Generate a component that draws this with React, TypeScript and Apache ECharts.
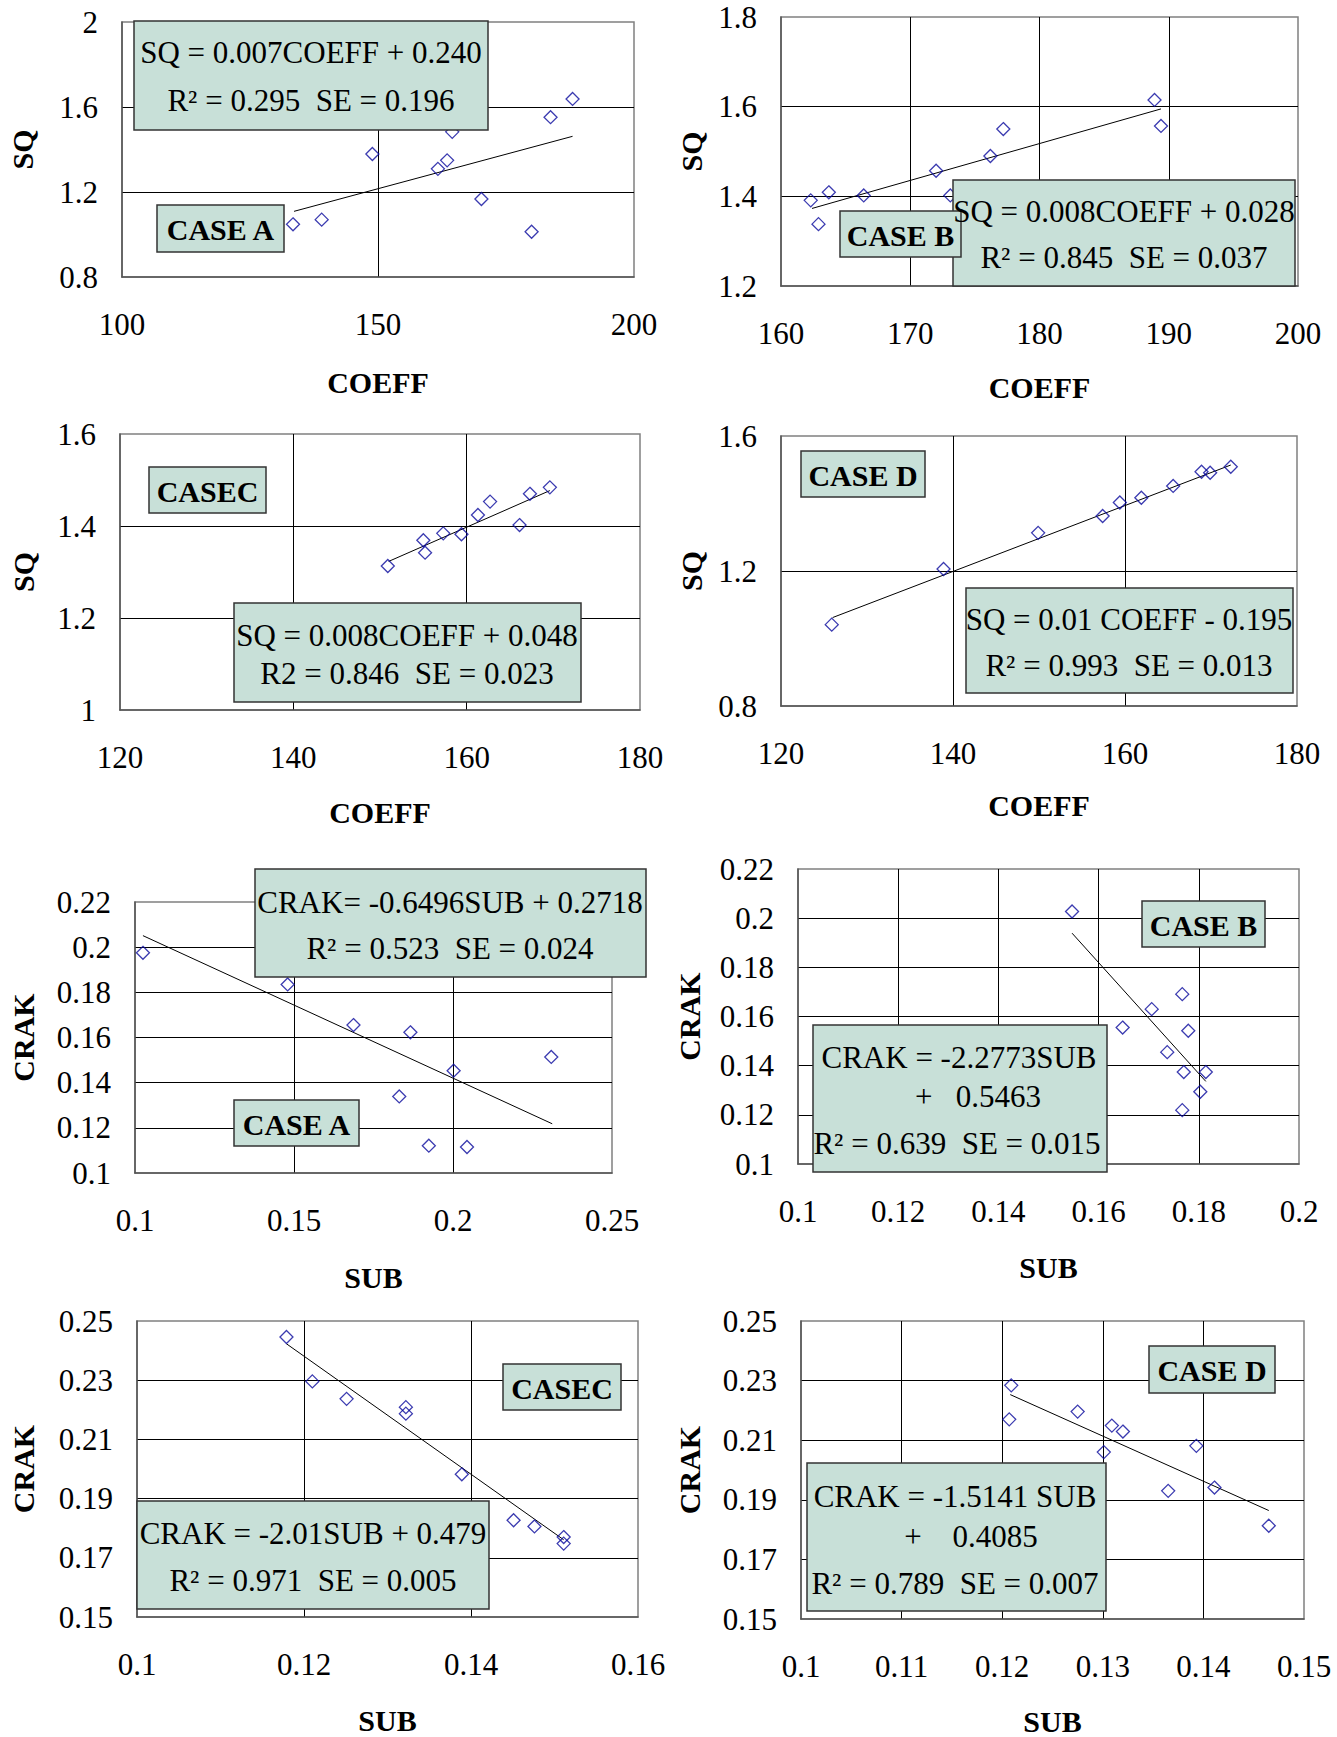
import React, { useEffect, useRef } from "react";
import * as echarts from "echarts";

const FONT = '"Liberation Serif", "Times New Roman", Times, serif';
const NB = "\u00a0";

// ---------- DATA ----------
// SQ vs COEFF
const sqCoeffA = [[133.4, 1.048], [139.0, 1.07], [148.9, 1.379], [161.7, 1.309], [163.5, 1.349], [164.5, 1.483], [170.2, 1.167], [180.0, 1.013], [183.7, 1.552], [188.0, 1.638]];
const sqTrendA = [[133.6, 1.109], [188.0, 1.462]];
const sqCoeffB = [[162.3, 1.391], [162.9, 1.338], [163.7, 1.409], [166.4, 1.402], [172.0, 1.457], [173.1, 1.402], [176.2, 1.49], [177.2, 1.55], [188.9, 1.615], [189.4, 1.557]];
const sqTrendB = [[162.4, 1.373], [189.4, 1.595]];
const sqCoeffC = [[150.9, 1.313], [155.0, 1.369], [155.2, 1.342], [157.3, 1.384], [159.4, 1.382], [161.3, 1.424], [162.7, 1.453], [166.1, 1.402], [167.3, 1.47], [169.6, 1.484]];
const sqTrendC = [[151.0, 1.323], [169.6, 1.477]];
const sqCoeffD = [[125.9, 1.041], [138.9, 1.206], [149.9, 1.313], [157.4, 1.363], [159.4, 1.403], [161.9, 1.417], [165.6, 1.452], [168.9, 1.494], [169.9, 1.491], [172.3, 1.509]];
const sqTrendD = [[126.0, 1.062], [172.3, 1.514]];
// CRAK vs SUB
const crakSubA = [[0.1025, 0.1975], [0.148, 0.1835], [0.1687, 0.1655], [0.1866, 0.1623], [0.2002, 0.1453], [0.2309, 0.1514], [0.1831, 0.1339], [0.1924, 0.1121], [0.2044, 0.1115]];
const crakTrendA = [[0.1025, 0.2051], [0.2312, 0.1218]];
const crakSubB = [[0.1547, 0.2027], [0.1648, 0.1555], [0.1706, 0.163], [0.1767, 0.1691], [0.1779, 0.1542], [0.1737, 0.1455], [0.177, 0.1374], [0.1814, 0.1374], [0.1803, 0.1294], [0.1767, 0.1219]];
const crakTrendB = [[0.1547, 0.1939], [0.1814, 0.1336]];
const crakSubC = [[0.1179, 0.2446], [0.121, 0.2296], [0.1251, 0.2237], [0.1322, 0.2209], [0.1322, 0.2187], [0.1389, 0.1982], [0.1451, 0.1827], [0.1476, 0.1806], [0.1511, 0.177], [0.1511, 0.1748]];
const crakTrendC = [[0.1179, 0.2423], [0.1511, 0.1761]];
const crakSubD = [[0.1209, 0.2284], [0.1207, 0.217], [0.1275, 0.2196], [0.1309, 0.2149], [0.132, 0.2129], [0.1301, 0.206], [0.1393, 0.2081], [0.1365, 0.193], [0.1411, 0.1941], [0.1465, 0.1813]];
const crakTrendD = [[0.1208, 0.2253], [0.1465, 0.1864]];

// axis ranges [min, max, interval]
const xCoeffA = [100, 200, 50];
const ySqA = [0.8, 2, 0.4];
const xCoeffB = [160, 200, 10];
const ySqB = [1.2, 1.8, 0.2];
const xCoeffC = [120, 180, 20];
const ySqC = [1, 1.6, 0.2];
const xCoeffD = [120, 180, 20];
const ySqD = [0.8, 1.6, 0.4];
const xSubA = [0.1, 0.25, 0.05];
const yCrakA = [0.1, 0.22, 0.02];
const xSubB = [0.1, 0.2, 0.02];
const yCrakB = [0.1, 0.22, 0.02];
const xSubC = [0.1, 0.16, 0.02];
const yCrakC = [0.15, 0.25, 0.02];
const xSubD = [0.1, 0.15, 0.01];
const yCrakD = [0.15, 0.25, 0.02];

// texts
const eqTexts = [
  ["SQ = 0.007COEFF + 0.240", `R² = 0.295 ${NB}SE = 0.196`],
  ["SQ = 0.008COEFF + 0.028", `R² = 0.845 ${NB}SE = 0.037`],
  ["SQ = 0.008COEFF + 0.048", `R2 = 0.846 ${NB}SE = 0.023`],
  ["SQ = 0.01 COEFF - 0.195", `R² = 0.993 ${NB}SE = 0.013`],
  ["CRAK= -0.6496SUB + 0.2718", `R² = 0.523 ${NB}SE = 0.024`],
  ["CRAK = -2.2773SUB", `+${NB}${NB}${NB}0.5463`, `R² = 0.639 ${NB}SE = 0.015`],
  ["CRAK = -2.01SUB + 0.479", `R² = 0.971 ${NB}SE = 0.005`],
  ["CRAK = -1.5141 SUB", `+${NB}${NB}${NB}${NB}0.4085`, `R² = 0.789 ${NB}SE = 0.007`],
];
const caseTexts = ["CASE A", "CASE B", "CASEC", "CASE D", "CASE A", "CASE B", "CASEC", "CASE D"];

// ---------- LAYOUT ----------
const panels = [
  { grid: [122, 22, 512, 255], x: xCoeffA, y: ySqA, xn: "COEFF", yn: "SQ", xg: 90, yg: 85, pts: sqCoeffA, tr: sqTrendA,
    eqBox: [134, 21, 354, 109], eqLines: [[311, 52], [311, 100]], caseBox: [157, 205, 127, 47] },
  { grid: [781, 17, 517, 269], x: xCoeffB, y: ySqB, xn: "COEFF", yn: "SQ", xg: 86, yg: 75, pts: sqCoeffB, tr: sqTrendB,
    eqBox: [953, 180, 342, 106], eqLines: [[1124, 211], [1124, 257]], caseBox: [840, 211, 121, 46] },
  { grid: [120, 434, 520, 276], x: xCoeffC, y: ySqC, xn: "COEFF", yn: "SQ", xg: 87, yg: 82, pts: sqCoeffC, tr: sqTrendC,
    eqBox: [234, 603, 347, 99], eqLines: [[407, 635], [407, 673]], caseBox: [149, 467, 117, 46] },
  { grid: [781, 436, 516, 270], x: xCoeffD, y: ySqD, xn: "COEFF", yn: "SQ", xg: 84, yg: 75, pts: sqCoeffD, tr: sqTrendD,
    eqBox: [966, 588, 327, 105], eqLines: [[1129, 619], [1129, 665]], caseBox: [801, 451, 124, 46] },
  { grid: [135, 902, 477, 271], x: xSubA, y: yCrakA, xn: "SUB", yn: "CRAK", xg: 89, yg: 97, pts: crakSubA, tr: crakTrendA,
    eqBox: [255, 869, 391, 108], eqLines: [[450, 902], [450, 948]], caseBox: [234, 1100, 125, 46] },
  { grid: [798, 869, 501, 295], x: xSubB, y: yCrakB, xn: "SUB", yn: "CRAK", xg: 88, yg: 94, pts: crakSubB, tr: crakTrendB,
    eqBox: [813, 1025, 294, 147], eqLines: [[959, 1057], [978, 1096], [957, 1143]], caseBox: [1142, 901, 123, 46] },
  { grid: [137, 1321, 501, 296], x: xSubC, y: yCrakC, xn: "SUB", yn: "CRAK", xg: 88, yg: 99, pts: crakSubC, tr: crakTrendC,
    eqBox: [137, 1501, 352, 108], eqLines: [[313, 1533], [313, 1580]], caseBox: [503, 1364, 118, 46] },
  { grid: [801, 1321, 503, 299], x: xSubD, y: yCrakD, xn: "SUB", yn: "CRAK", xg: 87, yg: 97, pts: crakSubD, tr: crakTrendD,
    eqBox: [807, 1463, 299, 148], eqLines: [[955, 1496], [971, 1536], [955, 1583]], caseBox: [1149, 1346, 126, 47] },
];

function buildOption() {
  const grid = panels.map((p) => ({
    left: p.grid[0], top: p.grid[1], width: p.grid[2], height: p.grid[3],
    show: true, borderColor: "#808080", borderWidth: 1.5, backgroundColor: "transparent",
  }));
  const axisCommon = (name: string, gap: number, r: number[], i: number, isX: boolean) => ({
    type: "value",
    gridIndex: i,
    min: r[0], max: r[1], interval: r[2],
    name, nameLocation: "middle", nameGap: gap,
    nameRotate: isX ? 0 : 90,
    nameTextStyle: { fontFamily: FONT, fontSize: 30, fontWeight: "bold", color: "#000" },
    axisLine: { show: true, onZero: false, lineStyle: { color: "#555", width: 1.5 } },
    axisTick: { show: false },
    axisLabel: { fontFamily: FONT, fontSize: 31, color: "#000", margin: isX ? 32 : 24 },
    splitLine: { show: true, showMinLine: false, showMaxLine: false, lineStyle: { color: "#000", width: 1 } },
  });
  const xAxis = panels.map((p, i) => axisCommon(p.xn, p.xg, p.x, i, true));
  const yAxis = panels.map((p, i) => axisCommon(p.yn, p.yg, p.y, i, false));
  const series: any[] = [];
  panels.forEach((p, i) => {
    series.push({
      type: "line", xAxisIndex: i, yAxisIndex: i, data: p.tr, symbol: "none",
      lineStyle: { color: "#000", width: 1 }, z: 2, silent: true,
    });
    series.push({
      type: "scatter", xAxisIndex: i, yAxisIndex: i, data: p.pts, symbol: "diamond", symbolSize: 13,
      itemStyle: { color: "rgba(0,0,0,0)", borderColor: "#0a0a9c", borderWidth: 1.3 }, z: 3,
    });
  });
  const elements: any[] = [];
  const textEl = (txt: string, x: number, y: number, bold: boolean) => ({
    type: "text", x, y, z: 102,
    style: {
      text: txt, fill: "#000",
      fontFamily: FONT, fontSize: bold ? 30 : 31, fontWeight: bold ? "bold" : "normal",
      align: "center", verticalAlign: "middle", textAlign: "center", textVerticalAlign: "middle",
    },
  });
  const rectEl = (b: number[]) => ({
    type: "rect", z: 100,
    shape: { x: b[0], y: b[1], width: b[2], height: b[3] },
    style: { fill: "#C8E0D8", stroke: "#333", lineWidth: 1.5 },
  });
  panels.forEach((p, i) => {
    elements.push(rectEl(p.eqBox));
    eqTexts[i].forEach((t, k) => elements.push(textEl(t, p.eqLines[k][0], p.eqLines[k][1], false)));
    elements.push(rectEl(p.caseBox));
    elements.push(textEl(caseTexts[i], p.caseBox[0] + p.caseBox[2] / 2, p.caseBox[1] + p.caseBox[3] / 2 + 1, true));
  });
  return {
    animation: false,
    backgroundColor: "#fff",
    textStyle: { fontFamily: FONT },
    grid, xAxis, yAxis, series,
    graphic: { elements },
  };
}

export default function App() {
  const ref = useRef<HTMLDivElement>(null);
  useEffect(() => {
    if (!ref.current) return;
    const chart = echarts.init(ref.current, undefined, { renderer: "svg" });
    chart.setOption(buildOption() as any);
    return () => chart.dispose();
  }, []);
  return (
    <div
      ref={ref}
      style={{ position: "absolute", left: 0, top: 0, width: 1337, height: 1737, background: "#fff" }}
    />
  );
}
